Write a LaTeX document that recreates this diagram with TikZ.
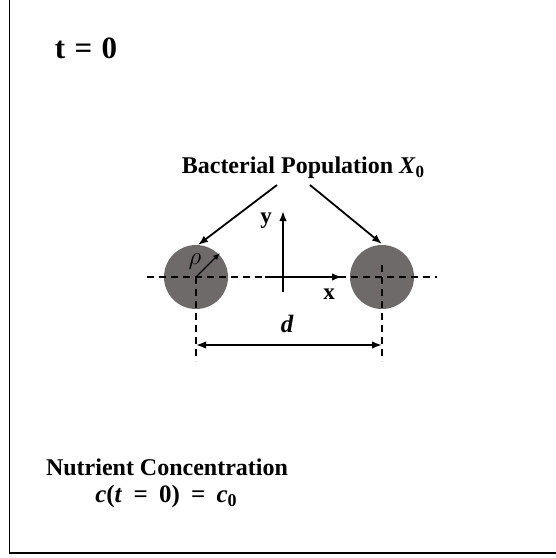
\documentclass[tikz,border=0pt]{standalone}
\usepackage{fontspec}
\setmainfont{Liberation Serif}
\usetikzlibrary{arrows.meta}
\definecolor{cellgray}{RGB}{110,106,106}
\newcommand{\eqsp}{\hspace{0.3em}}
\newcommand{\eqspw}{\hspace{0.45em}}
\tikzset{
  arr/.style={line width=1.8pt,-{Latex[length=10pt,width=7.5pt]}},
  dash line/.style={line width=1.5pt,dash pattern=on 7pt off 5pt},
  cell/.style={circle,fill=cellgray,minimum size=64pt,inner sep=0pt},
  lbl/.style={font=\bfseries,inner sep=0pt},
}
\begin{document}
\begin{tikzpicture}[x=1pt,y=-1pt]
\useasboundingbox (0,0) rectangle (556,558);
% frame
\draw[line width=1.5pt] (9.5,0) -- (9.5,553) -- (556,553);
% title
\node[lbl,font=\fontsize{31}{35}\selectfont\bfseries] (t0) at (86,48) {t\eqsp=\eqsp0};
% cells
\node[cell] (L) at (196,277) {};
\node[cell] (R) at (382,277) {};
% horizontal dashed line
\coordinate (hl) at (147,277);
\coordinate (hr) at (437,277);
\draw[dash line] (hl) -- (hr);
% axes
\coordinate (xa) at (265,277);
\coordinate (xb) at (342,277);
\coordinate (ya) at (283,292);
\coordinate (yb) at (283,211);
\draw[arr] (xa) -- (xb);
\draw[arr] (ya) -- (yb);
\node[lbl,font=\fontsize{23}{26}\selectfont\bfseries] (ylab) at (266,221) {y};
\node[lbl,font=\fontsize{23}{26}\selectfont\bfseries] (xlab) at (329,294) {x};
% vertical dashed lines
\coordinate (lv1) at (196,277);
\coordinate (lv2) at (196,361);
\coordinate (rv1) at (382,265);
\coordinate (rv2) at (382,361);
\draw[dash line] (lv1) -- (lv2);
\draw[dash line] (rv1) -- (rv2);
% d arrow
\coordinate (da) at (196,345);
\coordinate (db) at (382,345);
\draw[line width=1.8pt,{Latex[length=10pt,width=7.5pt]}-{Latex[length=10pt,width=7.5pt]}] (da) -- (db);
\node[lbl,font=\fontsize{25}{28}\selectfont\bfseries\itshape] (dlab) at (287,324) {d};
% rho
\coordinate (rhoend) at (220,253);
\draw[line width=1.2pt,-{Latex[length=7pt,width=6pt]}] (L.center) -- (rhoend);
\node[inner sep=0pt,font=\fontsize{24}{26}\selectfont] (rho) at (195,262) {$\rho$};
% bacterial label
\node[lbl,font=\fontsize{24}{28}\selectfont\bfseries] (bp) at (303,168) {Bacterial Population \textit{X}\raisebox{-0.35ex}{\fontsize{17}{19}\selectfont 0}};
\coordinate (bl) at (277,185);
\coordinate (br) at (310,185);
\coordinate (lt) at (198,245);
\coordinate (rt) at (382,244);
\draw[arr] (bl) -- (lt);
\draw[arr] (br) -- (rt);
% nutrient
\node[lbl,font=\fontsize{24}{28}\selectfont\bfseries] (nc) at (167,467) {Nutrient Concentration};
\node[lbl,font=\fontsize{25}{29}\selectfont\bfseries] (ceq) at (166,496) {\textit{c}(\textit{t}\eqspw=\eqspw0)\eqspw=\eqspw\textit{c}\raisebox{-0.35ex}{\fontsize{18}{20}\selectfont 0}};
\end{tikzpicture}
\end{document}
